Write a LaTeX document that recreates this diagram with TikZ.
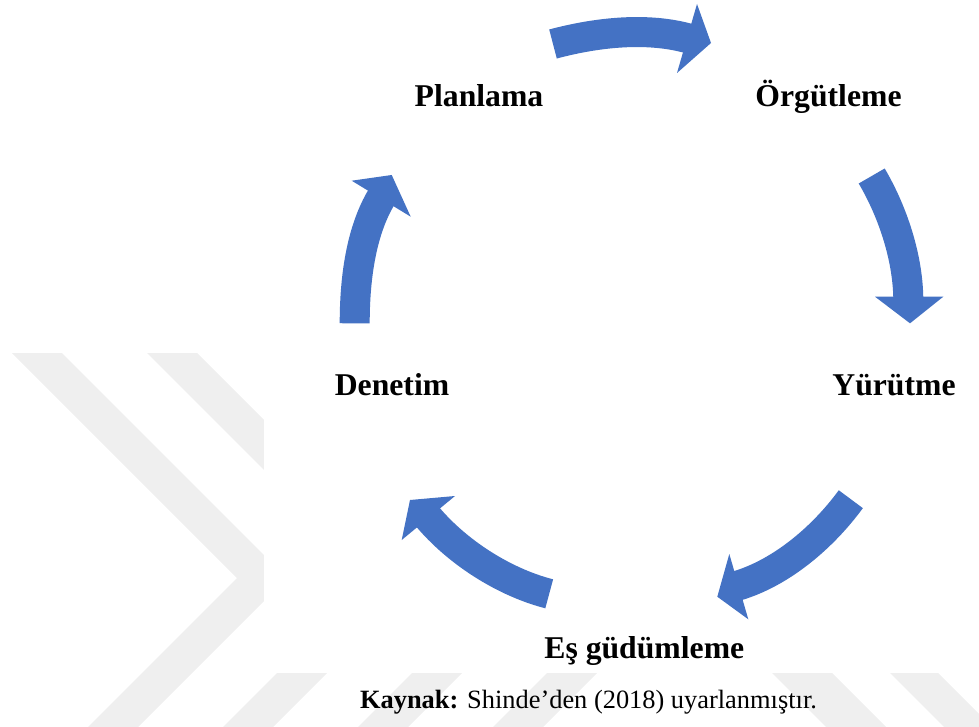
\documentclass[tikz,border=0pt]{standalone}
\usepackage{fontspec}
\setmainfont{Liberation Serif}
\definecolor{arrowblue}{RGB}{68,114,196}
\definecolor{wmgray}{RGB}{239,239,239}
\begin{document}
\begin{tikzpicture}[x=1pt,y=-1pt,
  body/.style={draw=arrowblue, line width=30pt},
  head/.style={fill=arrowblue},
  lbl/.style={font=\fontsize{31.7}{36}\selectfont\bfseries, anchor=base, inner sep=0pt},
  captionstyle/.style={font=\fontsize{26.4}{30}\selectfont, anchor=base, inner sep=0pt}]
\useasboundingbox (0,0) rectangle (979,727);
\clip (0,0) rectangle (979,727);
% faint watermark
\foreach \ax in {237,372,507,642} {
  \fill[wmgray] (\ax-225,353) -- (\ax-175,353) -- (\ax+50,578) -- (\ax-175,803) -- (\ax-225,803) -- (\ax,578) -- cycle;
}
\fill[wmgray] (772,673) -- (832,673) -- (886,727) -- (826,727) -- cycle;
\fill[wmgray] (890,673) -- (938,673) -- (992,727) -- (944,727) -- cycle;
% white area of the figure
\fill[white] (264,0) rectangle (979,673);
% arrow end points
\coordinate (a1s) at (553,44);    \coordinate (a1e) at (690.8,39.1);
\coordinate (a2s) at (871.7,176); \coordinate (a2e) at (908.3,300.7);
\coordinate (a3s) at (850.8,499.2); \coordinate (a3e) at (736.2,586.1);
\coordinate (a4s) at (549.2,593.8); \coordinate (a4e) at (426.4,515.4);
\coordinate (a5s) at (354.7,323.3); \coordinate (a5e) at (382.1,196.1);
% arrow bodies
\draw[body] (a1s) .. controls (596.5,32.4) and (647.6,26.5) .. (a1e);
\draw[body] (a2s) .. controls (893,212.2) and (908.3,258.7) .. (a2e);
\draw[body] (a3s) .. controls (823.1,537.1) and (781.3,573) .. (a3e);
\draw[body] (a4s) .. controls (503.6,582.1) and (456.4,551.7) .. (a4e);
\draw[body] (a5s) .. controls (354.7,281.3) and (360.2,232) .. (a5e);
% arrow heads
\fill[head] (697,4) -- (711,43) -- (677,73) -- cycle;
\fill[head] (875,296.7) -- (910,323.3) -- (943.3,296.7) -- cycle;
\fill[head] (729.3,554) -- (717.3,596.7) -- (748.3,619.3) -- cycle;
\fill[head] (455,496) -- (410,500) -- (401.7,540) -- cycle;
\fill[head] (351.7,180.7) -- (391.7,175) -- (410.7,216.7) -- cycle;
% labels
\node[lbl] (plan) at (479,106.7) {Planlama};
\node[lbl] (org) at (828.5,106.7) {Örgütleme};
\node[lbl] (yur) at (894,395) {Yürütme};
\node[lbl] (den) at (392,395) {Denetim};
\node[lbl] (es) at (644.3,658.3) {Eş güdümleme};
\node[captionstyle] (cap) at (588.5,708.3) {\textbf{Kaynak:} Shinde’den (2018) uyarlanmıştır.};
\end{tikzpicture}
\end{document}
